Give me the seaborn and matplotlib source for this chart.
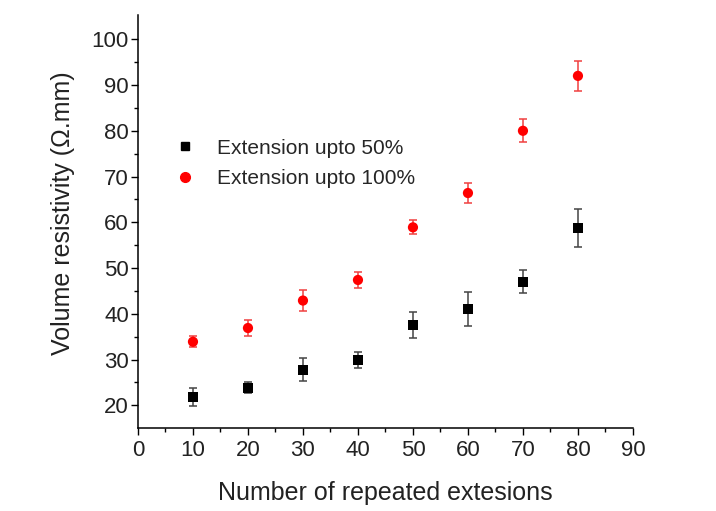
import numpy as np
import pandas as pd
import matplotlib
matplotlib.use("Agg")
import matplotlib.pyplot as plt
import seaborn as sns
from matplotlib.lines import Line2D

repeats = [10, 20, 30, 40, 50, 60, 70, 80]
res_50 = [21.8, 23.8, 27.8, 29.9, 37.5, 41.0, 47.0, 58.8]
err_50 = [2.0, 1.2, 2.5, 1.8, 2.8, 3.7, 2.5, 4.2]
res_100 = [33.9, 36.9, 42.9, 47.4, 58.9, 66.4, 80.0, 92.0]
err_100 = [1.2, 1.8, 2.3, 1.7, 1.5, 2.2, 2.5, 3.2]
labels = ["Extension upto 50%", "Extension upto 100%"]
x_ticks = [0, 10, 20, 30, 40, 50, 60, 70, 80, 90]
y_ticks = [20, 30, 40, 50, 60, 70, 80, 90, 100]

sns.set_theme(style="ticks")
plt.rcParams['font.family'] = ['Liberation Sans', 'DejaVu Sans']

df = pd.DataFrame({
    "x": repeats * 2,
    "y": res_50 + res_100,
    "err": err_50 + err_100,
    "series": [labels[0]] * len(repeats) + [labels[1]] * len(repeats),
})

fig = plt.figure(figsize=(7.16, 5.11), dpi=100)
ax = fig.add_axes([0.1927, 0.162, 0.6913, 0.8086])

colors = {labels[0]: "black", labels[1]: "#ff0000"}
ecolors = {labels[0]: "#444444", labels[1]: "#f04040"}
markers = {labels[0]: "s", labels[1]: "o"}

for lab in labels:
    d = df[df.series == lab]
    ax.errorbar(d.x, d.y, yerr=d.err, fmt="none", ecolor=ecolors[lab],
                elinewidth=1.1, capsize=3.0, capthick=1.1, zorder=2)

sns.scatterplot(data=df, x="x", y="y", hue="series", style="series",
                palette=colors, markers=markers, s=54, edgecolor="none",
                ax=ax, zorder=3, legend=False)

handles = [Line2D([], [], linestyle="none", marker=markers[l], color=colors[l],
                  markersize=6 if l == labels[0] else 7) for l in labels]
ax.legend(handles, labels, loc="upper left", bbox_to_anchor=(0.032, 0.746),
          frameon=False, fontsize=15, handletextpad=0.94, labelspacing=0.55,
          handlelength=1.2)

ax.set_xlim(0, 90)
ax.set_ylim(15, 105.3)
ax.set_xticks(x_ticks)
ax.set_yticks(y_ticks)
ax.set_xticks(np.arange(5, 90, 10), minor=True)
ax.set_yticks(np.arange(25, 105, 10), minor=True)
ax.tick_params(axis="both", which="major", direction="out", length=5, width=1,
               labelsize=16, color="black", labelcolor="#222222")
ax.tick_params(axis="x", which="major", pad=3.5)
ax.tick_params(axis="y", which="major", pad=1.5)
ax.tick_params(axis="both", which="minor", direction="out", length=3, width=1, color="black")
sns.despine(ax=ax)
for s in ["left", "bottom"]:
    ax.spines[s].set_color("black")
    ax.spines[s].set_linewidth(1.1)

ax.set_xlabel("Number of repeated extesions", fontsize=18, color="#222222")
ax.set_ylabel("Volume resistivity (Ω.mm)", fontsize=18, color="#222222")
ax.xaxis.set_label_coords(0.5, -0.128)
ax.yaxis.set_label_coords(-0.127, 0.521)

fig.savefig("out.png", dpi=100)
